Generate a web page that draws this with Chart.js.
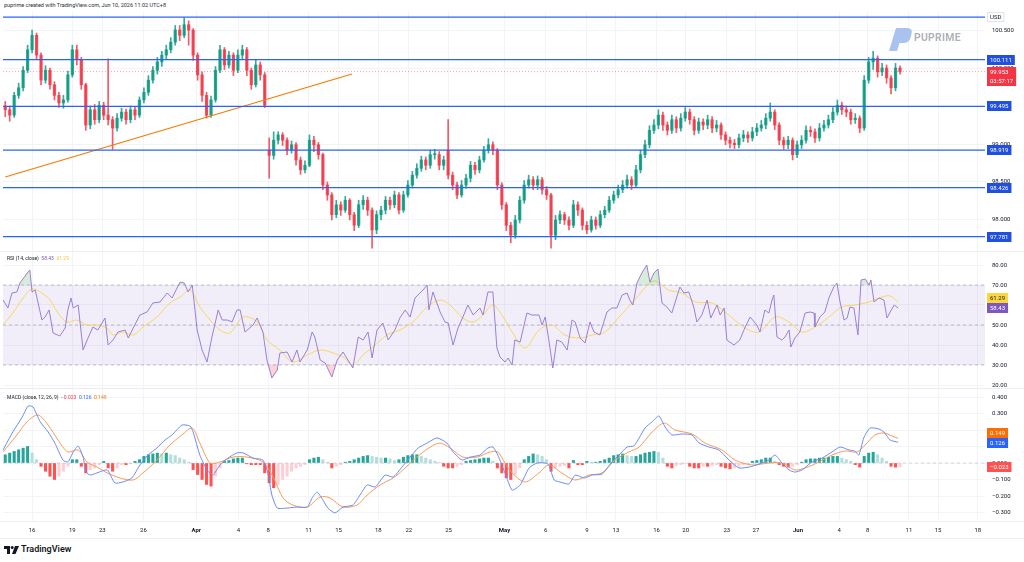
<!DOCTYPE html>
<html>
<head>
<meta charset="utf-8">
<title>USD index 4H</title>
<script src="https://cdn.jsdelivr.net/npm/chart.js@4.4.1/dist/chart.umd.min.js"></script>
<style>
  html, body { margin: 0; padding: 0; background: #fff; }
  body { position: relative; width: 1024px; height: 562px; overflow: hidden; font-family: Roboto, 'Liberation Sans', sans-serif; color: #131722; }
  canvas { position: absolute; left: 0; }
  .txt { position: absolute; white-space: nowrap; line-height: 1; }
  .sep { position: absolute; left: 0; width: 1024px; height: 1px; background: #eceef3; }
</style>
</head>
<body>
<div class="txt" style="left:4px;top:3px;font-size:5.5px;color:#2a2e39">puprime created with TradingView.com, Jun 10, 2026 11:02 UTC+8</div>

<canvas id="main" width="1024" height="239" style="top:12px"></canvas>
<div class="sep" style="top:251px"></div>
<canvas id="rsi" width="1024" height="136" style="top:252px"></canvas>
<div class="sep" style="top:388px"></div>
<canvas id="macd" width="1024" height="151" style="top:389px"></canvas>
<div class="sep" style="top:521px"></div>
<div class="sep" style="top:538px"></div>

<div class="txt" style="left:7px;top:256px;font-size:5px">RSI (14, close) <span style="color:#7e57c2">&nbsp;58.43</span> <span style="color:#f5c542">&nbsp;61.29</span></div>
<div class="txt" style="left:7px;top:395px;font-size:5px">MACD (close, 12, 26, 9) <span style="color:#f23645">&nbsp;−0.023</span> <span style="color:#2962ff">&nbsp;0.126</span> <span style="color:#ff6d00">&nbsp;0.149</span></div>

<!-- watermark -->
<svg style="position:absolute;left:886px;top:26px" width="28" height="26" viewBox="0 0 28 26">
  <path d="M3 25 L10 2 L21 2 Q27 2 25.5 8 L24.5 12 Q23 17 17 17 L13.5 17 L11 25 Z" fill="#a9c2ef"/>
</svg>
<div class="txt" style="left:914px;top:33px;font-size:10.5px;font-weight:bold;color:#b0b3ba;letter-spacing:0.2px">PUPRIME</div>

<!-- footer logo -->
<svg style="position:absolute;left:4px;top:546px" width="15" height="8" viewBox="0 0 15 8">
  <path d="M0 0 H6 V8 H3 V3 H0 Z" fill="#131722"/>
  <circle cx="8.2" cy="1.5" r="1.5" fill="#131722"/>
  <path d="M11 0 H15 L11.5 8 H8 Z" fill="#131722"/>
</svg>
<div class="txt" style="left:21px;top:545px;font-size:9px;font-weight:600;color:#131722">TradingView</div>

<script>
// ---- time axis ----
const tickPos = [6.0, 15.0, 21.7, 30.9, 42.7, 52.1, 58.8, 67.8, 74.5, 83.4, 90.2, 99.1, 111.6,
                 120.8, 130.0, 136.5, 145.6, 152.1, 161.3, 167.8, 177.2, 186.4, 192.8, 202.0, 208.5, 217.4];
const tickLabels = ['16', '19', '23', '26', 'Apr', '4', '8', '11', '15', '18', '22', '25', 'May',
                    '6', '9', '13', '16', '20', '23', '27', 'Jun', '4', '8', '11', '15', '18'];
const monthLabels = ['Apr', 'May', 'Jun'];

// ---- candles (one per 4.5px slot) ----
const opens = [
  99.50, 99.45, 99.38, 99.64, 99.74, 99.97, 100.24, 100.43, 100.17, 99.84,
  99.97, 99.78, 99.64, 99.54, 99.58, 99.91, 100.24, 100.11, 99.78, 99.25,
  99.45, 99.32, 99.51, 99.38, 99.32, 99.21, 99.34, 99.42, 99.32, 99.45,
  99.38, 99.58, 99.68, 99.84, 99.97, 100.08, 100.17, 100.24, 100.34, 100.50,
  100.43, 100.57, 100.50, 100.17, 99.91, 99.64, 99.38, 99.58, 99.97, 100.24,
  100.04, 100.17, 99.97, 100.17, 100.24, 99.97, 99.78, 100.04, 99.91, 98.92,
  98.85, 99.05, 99.12, 99.05, 98.92, 98.99, 98.79, 98.66, 98.72, 99.05,
  98.99, 98.86, 98.46, 98.33, 98.07, 98.20, 98.13, 98.26, 98.07, 97.93,
  98.20, 98.26, 98.13, 97.87, 98.07, 98.13, 98.26, 98.20, 98.33, 98.13,
  98.33, 98.46, 98.59, 98.68, 98.79, 98.72, 98.86, 98.86, 98.72, 98.92,
  98.59, 98.46, 98.33, 98.46, 98.55, 98.72, 98.66, 98.79, 98.92, 98.99,
  98.92, 98.46, 98.20, 97.93, 97.80, 98.00, 98.26, 98.46, 98.53, 98.46,
  98.53, 98.40, 98.33, 97.80, 98.00, 98.07, 98.00, 97.93, 98.20, 98.13,
  97.93, 97.87, 98.00, 97.93, 98.07, 98.13, 98.26, 98.33, 98.40, 98.46,
  98.53, 98.46, 98.66, 98.86, 98.99, 99.18, 99.25, 99.38, 99.25, 99.18,
  99.32, 99.21, 99.34, 99.42, 99.32, 99.18, 99.29, 99.25, 99.32, 99.21,
  99.25, 99.12, 99.05, 99.01, 98.99, 99.08, 99.12, 99.08, 99.16, 99.21,
  99.25, 99.34, 99.42, 99.25, 99.05, 98.99, 99.05, 98.86, 98.99, 99.05,
  99.18, 99.16, 99.08, 99.21, 99.25, 99.32, 99.42, 99.51, 99.45, 99.42,
  99.32, 99.34, 99.21, 99.84, 100.08, 100.13, 99.95, 100.00, 99.87, 99.74,
  100.00
];
const highs = [
  99.56, 99.50, 99.68, 99.80, 100.02, 100.30, 100.50, 100.46, 100.20, 100.03,
  100.00, 99.82, 99.68, 99.64, 99.96, 100.30, 100.30, 100.14, 99.80, 99.50,
  99.52, 99.56, 99.55, 100.12, 99.36, 99.40, 99.47, 99.46, 99.50, 99.49,
  99.62, 99.74, 99.90, 100.02, 100.14, 100.22, 100.30, 100.40, 100.56, 100.56,
  100.66, 100.62, 100.52, 100.20, 99.95, 99.68, 99.63, 100.02, 100.30, 100.27,
  100.22, 100.20, 100.24, 100.30, 100.27, 100.00, 100.10, 100.08, 99.94, 99.08,
  99.16, 99.16, 99.15, 99.08, 99.04, 99.02, 98.83, 98.78, 99.12, 99.10,
  99.02, 98.88, 98.50, 98.36, 98.26, 98.24, 98.31, 98.28, 98.10, 98.26,
  98.32, 98.30, 98.16, 98.12, 98.18, 98.31, 98.30, 98.38, 98.36, 98.38,
  98.52, 98.64, 98.74, 98.84, 98.83, 98.92, 98.93, 98.90, 98.84, 99.32,
  98.63, 98.50, 98.52, 98.60, 98.77, 98.76, 98.84, 98.97, 99.07, 99.03,
  98.94, 98.49, 98.23, 97.97, 98.06, 98.31, 98.52, 98.59, 98.57, 98.58,
  98.56, 98.44, 98.35, 98.06, 98.12, 98.10, 98.04, 98.26, 98.24, 98.16,
  97.98, 98.05, 98.04, 98.12, 98.18, 98.31, 98.38, 98.46, 98.52, 98.59,
  98.57, 98.72, 98.92, 99.05, 99.24, 99.32, 99.45, 99.42, 99.29, 99.38,
  99.36, 99.40, 99.48, 99.46, 99.36, 99.34, 99.33, 99.38, 99.36, 99.31,
  99.28, 99.16, 99.09, 99.06, 99.13, 99.18, 99.16, 99.22, 99.27, 99.31,
  99.40, 99.54, 99.45, 99.28, 99.09, 99.10, 99.08, 99.04, 99.11, 99.24,
  99.23, 99.20, 99.27, 99.31, 99.38, 99.48, 99.58, 99.55, 99.50, 99.46,
  99.40, 99.37, 99.90, 100.14, 100.22, 100.16, 100.06, 100.04, 99.90, 100.06,
  100.03
];
const lows = [
  99.36, 99.30, 99.35, 99.60, 99.70, 99.94, 100.20, 100.12, 99.78, 99.80,
  99.72, 99.58, 99.48, 99.47, 99.55, 99.88, 100.04, 99.72, 99.18, 99.20,
  99.26, 99.28, 99.32, 99.25, 98.93, 99.17, 99.30, 99.26, 99.28, 99.32,
  99.35, 99.54, 99.64, 99.80, 99.92, 100.02, 100.12, 100.20, 100.30, 100.36,
  100.40, 100.30, 100.10, 99.84, 99.56, 99.34, 99.35, 99.55, 99.94, 99.98,
  100.00, 99.90, 99.94, 100.12, 99.90, 99.72, 99.75, 99.84, 99.48, 98.55,
  98.80, 99.00, 98.98, 98.86, 98.88, 98.72, 98.60, 98.62, 98.70, 98.90,
  98.80, 98.40, 98.26, 98.00, 98.03, 98.06, 98.10, 98.00, 97.86, 97.90,
  98.14, 98.06, 97.63, 97.82, 98.00, 98.08, 98.14, 98.16, 98.08, 98.10,
  98.30, 98.42, 98.55, 98.64, 98.66, 98.68, 98.80, 98.66, 98.66, 98.54,
  98.40, 98.28, 98.30, 98.42, 98.50, 98.60, 98.62, 98.76, 98.88, 98.86,
  98.40, 98.14, 97.86, 97.70, 97.76, 97.96, 98.22, 98.42, 98.40, 98.40,
  98.34, 98.27, 97.63, 97.74, 97.95, 97.94, 97.87, 97.90, 98.06, 97.87,
  97.82, 97.84, 97.88, 97.90, 98.03, 98.10, 98.22, 98.29, 98.36, 98.42,
  98.40, 98.43, 98.62, 98.82, 98.95, 99.14, 99.20, 99.18, 99.12, 99.14,
  99.15, 99.17, 99.30, 99.26, 99.12, 99.14, 99.19, 99.20, 99.15, 99.16,
  99.06, 98.99, 98.95, 98.94, 98.95, 99.03, 99.02, 99.04, 99.11, 99.17,
  99.20, 99.30, 99.19, 98.99, 98.93, 98.94, 98.79, 98.82, 98.94, 99.01,
  99.10, 99.02, 99.04, 99.17, 99.21, 99.28, 99.38, 99.39, 99.36, 99.26,
  99.27, 99.15, 99.18, 99.80, 99.98, 99.88, 99.90, 99.80, 99.66, 99.70,
  99.92
];
const closes = [
  99.45, 99.38, 99.64, 99.74, 99.97, 100.24, 100.43, 100.17, 99.84, 99.97,
  99.78, 99.64, 99.54, 99.58, 99.91, 100.24, 100.11, 99.78, 99.25, 99.45,
  99.32, 99.51, 99.38, 99.32, 99.21, 99.34, 99.42, 99.32, 99.45, 99.38,
  99.58, 99.68, 99.84, 99.97, 100.08, 100.17, 100.24, 100.34, 100.50, 100.43,
  100.57, 100.50, 100.17, 99.91, 99.64, 99.38, 99.58, 99.97, 100.24, 100.04,
  100.17, 99.97, 100.17, 100.24, 99.97, 99.78, 100.04, 99.91, 99.51, 98.85,
  99.05, 99.12, 99.05, 98.92, 98.99, 98.79, 98.66, 98.72, 99.05, 98.99,
  98.86, 98.46, 98.33, 98.07, 98.20, 98.13, 98.26, 98.07, 97.93, 98.20,
  98.26, 98.13, 97.87, 98.07, 98.13, 98.26, 98.20, 98.33, 98.13, 98.33,
  98.46, 98.59, 98.68, 98.79, 98.72, 98.86, 98.86, 98.72, 98.79, 98.59,
  98.46, 98.33, 98.46, 98.55, 98.72, 98.66, 98.79, 98.92, 98.99, 98.92,
  98.46, 98.20, 97.93, 97.80, 98.00, 98.26, 98.46, 98.53, 98.46, 98.53,
  98.40, 98.33, 97.80, 98.00, 98.07, 98.00, 97.93, 98.20, 98.13, 97.93,
  97.87, 98.00, 97.93, 98.07, 98.13, 98.26, 98.33, 98.40, 98.46, 98.53,
  98.46, 98.66, 98.86, 98.99, 99.18, 99.25, 99.38, 99.25, 99.18, 99.32,
  99.21, 99.34, 99.42, 99.32, 99.18, 99.29, 99.25, 99.32, 99.21, 99.25,
  99.12, 99.05, 99.01, 98.99, 99.08, 99.12, 99.08, 99.16, 99.21, 99.25,
  99.34, 99.42, 99.25, 99.05, 98.99, 99.05, 98.86, 98.99, 99.05, 99.18,
  99.16, 99.08, 99.21, 99.25, 99.32, 99.42, 99.51, 99.45, 99.42, 99.32,
  99.34, 99.21, 99.84, 100.08, 100.13, 99.95, 100.00, 99.87, 99.74, 100.00,
  99.953
];

// ---- drawings on the price pane ----
const levels = [100.111, 99.495, 98.919, 98.426, 97.781];
const topLevel = 100.67;
const lastPrice = 99.953;
const trendX = [0, 77.5];
const trendY = [98.566, 99.921];
const priceTicks = [98.0, 98.5, 99.0, 99.5, 100.0, 100.5];

// ---- RSI ----
const rsiX = [-0.5,0.6,1.5,2.6,3.3,5.1,5.5,6.0,6.7,8.2, 8.9,9.8,10.7,12.2,13.4,14.0,14.7,15.2,16.3,17.4,
  18.5,19.6,20.7,22.3,23.0,24.1,25.2,26.8,27.5,28.6, 30.1,31.7,33.0,34.6,36.2,37.3,38.4,39.1,40.0,40.9,
  41.8,42.9,44.0,45.1,46.2,47.6,48.5,49.6,50.7,51.8, 52.5,53.6,55.4,56.3,57.6,58.5,59.6,60.8,61.4,63.0,
  64.1,65.2,65.9,67.5,68.6,69.2,70.4,71.5,73.0,74.2, 75.5,76.6,77.7,78.9,80.0,81.1,82.0,83.1,84.4,85.6,
  87.1,88.2,89.4,90.5,91.6,92.7,93.4,94.3,94.7,95.6, 97.2,98.3,99.0,100.1,101.2,102.3,103.4,104.6,106.1,106.8,
  107.9,109.0,109.9,110.6,111.7,112.4,113.3,113.9,115.1,116.6, 117.7,119.3,120.0,120.7,121.5,122.4,123.3,124.4,125.6,126.7,
  127.4,128.5,129.6,130.7,131.6,132.9,133.8,134.5,135.6,136.7, 137.9,139.0,139.6,140.3,141.2,142.3,143.4,144.1,145.0,145.9,
  146.8,147.9,149.0,150.8,151.7,152.8,153.9,154.6,155.7,156.9, 157.7,159.1,159.8,160.7,161.3,162.9,164.2,165.4,166.5,168.0,
  168.7,169.8,170.7,171.4,171.8,172.5,173.6,174.3,175.2,175.6, 176.5,177.6,178.8,179.9,180.8,181.0,182.1,183.2,184.1,185.2,
  185.9,186.6,187.5,188.2,188.8,189.7,190.6,191.3,192.2,193.1, 193.5,194.2,195.3,196.4,197.1,197.8,198.7,199.6];
const rsiY = [62.5,58.5,66,66.5,71,76.5,77.5,66.5,67.5,52.5, 54,57.5,46,44.5,48.5,57.5,63.5,58.5,60,37.5,
  43.5,49,47.5,53.5,40,42.5,46.5,47.5,43.5,48.5, 55,56.5,61,61.5,66,63.5,68.5,71.5,71,66.5,
  70,47.5,37.5,31.5,44,57.5,52.5,52.5,51.5,57.5, 57.5,46.5,50,53.5,46.5,32.5,23.5,27.5,36,36.5,
  31.5,37.5,31.5,37.5,46.5,44,32.5,31,24,32.5, 36.5,32.5,28.5,44,42.5,46.5,33.5,47.5,51,42.5,
  47.5,53.5,57.5,54,63.5,66,67.5,70,57.5,66.5, 56.5,51.5,51,40,48.5,54,60,55,58.5,55,
  66.5,66.5,38.5,34,31.5,33.5,30,42.5,41.5,56, 55,55,50,54,42.5,28.5,42.5,41.5,37.5,52.5,
  51.5,43.5,41,51.5,46.5,45,51.5,56.5,58.5,58.5, 65,66,62.5,60,71,76,80,71.5,76,78,
  61,59,56,69,66,66.5,59,51.5,55,62.5, 53.5,60,55,58.5,42.5,40,42.5,49,54,50,
  46.5,57.5,56,62.5,65,44,42.5,44,47.5,39, 43.5,46.5,56,56.5,56,49,54,56.5,63.5,69,
  71,61.5,52.5,53.5,59,58.5,45,72.5,73,70, 72.5,61.5,63.5,62.5,53.5,56.5,60,58.43];
const rsiMaX = [-0.5,1.7,4.0,6.0,8.2,10.0,11.8,13.8,16.0,18.3, 20.5,22.7,24.1,26.3,28.6,30.8,33.9,36.8,39.1,41.3,
  43.5,45.8,48.0,50.2,53.2,56.3,58.5,61.4,64.3,67.5, 70.4,73.3,75.5,77.7,80.0,82.2,85.3,88.2,91.1,94.3,
  97.2,99.4,102.3,104.6,106.8,109.0,111.3,113.3,116.2,119.3, 122.2,125.1,128.3,131.2,134.1,137.2,140.1,143.0,145.2,148.3,
  151.3,154.3,158.0,160.9,165.4,168.5,172.1,175.2,178.1,181.0, 184.1,187.0,189.9,193.1,196.0,197.8,199.6];
const rsiMaY = [50,56,63.5,68,66,62.5,56,51.5,52.5,50, 50,48.5,45,46.5,45,49,54,61,64,67.5,
  59,52.5,47.5,46,54,51.5,42.5,37.5,31.5,35, 37.5,36,34,30,35,39,45,47.5,51.5,59,
  62.5,60,53.5,51.5,55,60,54,46.5,38.5,47.5, 50,45,43.5,45,46.5,54,61,68.5,72,67.5,
  66,61.5,61,56.5,48.5,46.5,54,51.5,46.5,49, 54,59,60,61.5,64,64.5,61.29];
const rsiBands = [70, 50, 30];
const rsiTicks = [20, 30, 40, 50, 60, 70, 80];

// ---- MACD ----
const macdX = [-0.5,1.7,3.8,5.1,6.2,7.8,9.6,11.1,12.9,14.0, 15.2,16.3,17.4,18.1,19.0,20.5,22.8,24.5,26.3,28.3,
  30.1,31.9,33.9,35.7,37.3,39.5,41.3,42.0,43.5,45.1, 46.4,48.0,49.8,51.8,53.2,55.4,57.6,58.7,59.6,60.8,
  63.0,65.2,67.5,68.6,69.7,71.0,72.1,73.7,75.5,77.7, 79.3,80.9,82.7,84.9,86.7,88.7,90.5,92.3,94.3,96.5,
  98.7,100.1,102.1,103.9,106.1,107.9,109.0,110.1,111.7,113.3, 115.1,117.1,118.9,120.7,121.5,122.7,124.0,126.0,127.4,129.4,
  131.2,133.4,135.6,137.2,139.0,140.5,141.7,143.0,144.6,146.1, 147.5,149.0,151.3,153.5,155.1,157.3,159.5,161.8,164.0,166.3,
  168.5,170.7,172.1,173.6,175.2,176.5,178.1,180.3,182.6,184.8, 186.6,188.6,189.9,190.8,191.9,193.3,195.3,196.4,197.8,199.6];
const macdY = [0.079,0.188,0.279,0.345,0.34,0.25,0.188,0.12,0.018,0.006, 0.067,0.103,0.036,-0.055,-0.073,-0.06,-0.042,-0.121,-0.115,-0.091,
  -0.012,0.048,0.091,0.139,0.17,0.23,0.224,0.188,0.048,-0.042, -0.073,-0.012,0.03,0.061,0.061,0.03,0.018,-0.06,-0.194,-0.273,
  -0.273,-0.267,-0.267,-0.212,-0.176,-0.224,-0.273,-0.303,-0.267,-0.255, -0.194,-0.133,-0.145,-0.073,-0.085,-0.024,0.036,0.091,0.121,0.152,
  0.121,0.067,0.018,0.036,0.048,0.091,0.097,0.048,-0.06,-0.164, -0.133,-0.03,0,0,-0.012,-0.103,-0.115,-0.127,-0.073,-0.091,
  -0.073,-0.067,0.006,0.048,0.097,0.103,0.152,0.212,0.25,0.285, 0.218,0.17,0.176,0.17,0.121,0.097,0.079,0.018,-0.03,-0.024,
  -0.006,0.018,0.048,0,-0.042,-0.055,-0.042,0.006,0.03,0.067, 0.097,0.079,0.073,0.048,0.152,0.212,0.206,0.188,0.139,0.126];
const signalX = [-0.5,2.6,4.9,7.3,9.6,11.8,14.0,16.3,18.3,20.5, 22.8,25.7,28.6,30.8,33.9,36.8,39.5,41.8,43.5,45.8,
  48.0,50.9,54.0,57.6,59.9,62.1,64.3,67.5,70.4,72.6, 75.5,78.6,80.9,83.8,86.7,88.9,92.0,95.0,97.2,99.4,
  102.3,105.5,108.4,110.1,111.7,113.3,116.2,119.3,121.5,124.4, 127.4,130.5,133.4,136.3,139.4,141.7,144.6,147.3,149.7,153.5,
  156.4,160.2,163.1,166.9,170.7,173.6,176.5,178.8,181.9,184.8, 187.7,190.4,192.2,194.4,196.4,198.2,199.6];
const signalY = [0.067,0.17,0.25,0.291,0.23,0.139,0.067,0.079,0.006,-0.024, -0.06,-0.091,-0.103,-0.06,0.018,0.109,0.17,0.212,0.121,0,
  0.006,0.036,0.036,0.006,-0.085,-0.212,-0.255,-0.267,-0.206,-0.212, -0.267,-0.255,-0.194,-0.133,-0.091,-0.042,0.036,0.097,0.121,0.091,
  0.036,0.036,0.067,0.067,0,-0.06,-0.115,-0.06,-0.012,-0.06, -0.103,-0.073,-0.06,0.018,0.067,0.097,0.188,0.242,0.2,0.176,
  0.121,0.079,0.018,-0.012,0,0,-0.042,-0.03,0.006,0.048, 0.073,0.067,0.109,0.17,0.182,0.164,0.149];
const hist = [
  0.05, 0.06, 0.07, 0.08, 0.09, 0.10, 0.06, 0.02, -0.02, -0.05,
  -0.08, -0.10, -0.08, -0.05, -0.02, 0.02, 0.02, -0.02, -0.06, -0.04,
  -0.03, -0.01, 0.01, -0.03, -0.05, -0.03, -0.01, -0.01, -0.005, 0.01,
  0.02, 0.04, 0.05, 0.055, 0.06, 0.055, 0.06, 0.05, 0.045, 0.03,
  0.02, 0.005, -0.04, -0.07, -0.10, -0.13, -0.14, -0.08, -0.03, 0.01,
  0.015, 0.025, 0.03, 0.03, -0.005, -0.01, -0.01, -0.01, -0.06, -0.12,
  -0.15, -0.13, -0.10, -0.08, -0.05, -0.03, -0.02, -0.01, 0.02, 0.03,
  0.035, 0.02, 0.005, -0.03, -0.02, -0.01, 0.005, 0.01, 0.02, 0.03,
  0.04, 0.045, 0.04, 0.035, 0.03, 0.03, 0.025, 0.015, 0.02, 0.035,
  0.045, 0.05, 0.05, 0.04, 0.03, 0.02, 0.01, 0.005, -0.02, -0.03,
  -0.03, -0.02, -0.01, 0.01, 0.015, 0.02, 0.025, 0.03, 0.03, 0.01,
  -0.03, -0.06, -0.09, -0.10, -0.07, -0.03, 0.02, 0.04, 0.055, 0.05,
  0.04, 0.02, -0.05, -0.03, -0.02, -0.015, -0.03, 0.015, -0.01, -0.01,
  0.01, 0.005, 0.005, 0.01, 0.02, 0.03, 0.045, 0.05, 0.055, 0.045,
  0.04, 0.04, 0.05, 0.06, 0.065, 0.07, 0.065, 0.03, -0.02, -0.03,
  -0.015, -0.01, -0.005, -0.02, -0.03, -0.03, -0.02, -0.02, -0.015, -0.01,
  -0.02, -0.03, -0.035, -0.03, -0.02, -0.01, -0.005, 0.01, 0.015, 0.02,
  0.03, 0.03, 0.01, -0.01, -0.02, -0.025, -0.02, -0.01, 0.005, 0.02,
  0.025, 0.025, 0.03, 0.03, 0.035, 0.04, 0.04, 0.03, 0.02, 0.01,
  -0.01, -0.025, 0.04, 0.06, 0.065, 0.05, 0.03, 0.01, -0.02, -0.025,
  -0.023
];
const macdTicks = [-0.3, -0.2, -0.1, 0, 0.1, 0.2, 0.3, 0.4];

// ---- shared setup ----
const X_MIN = -0.5, X_MAX = 219;
const GRID = '#f2f4f8';
const UP = 'rgba(8,153,129,0.82)', DOWN = 'rgba(242,54,69,0.82)';

Chart.defaults.font.family = "Roboto, 'Liberation Sans', sans-serif";
Chart.defaults.font.size = 6;
Chart.defaults.color = '#131722';
Chart.defaults.animation = false;
Chart.defaults.events = [];
Chart.defaults.plugins.legend.display = false;
Chart.defaults.plugins.tooltip.enabled = false;

const pts = (xs, ys) => xs.map((x, i) => ({ x, y: ys[i] }));
const hline = v => [{ x: X_MIN, y: v }, { x: X_MAX, y: v }];

// price-scale label boxes
const tagPlugin = {
  id: 'tags',
  afterDraw(chart, args, opts) {
    const ctx = chart.ctx, ys = chart.scales.y, x0 = chart.chartArea.right + 2;
    ctx.save();
    ctx.font = "6px Roboto, 'Liberation Sans', sans-serif";
    ctx.textBaseline = 'middle';
    for (const t of opts.items || []) {
      const py = Math.round(ys.getPixelForValue(t.value)) + (t.dy || 0);
      const lines = t.sub ? [t.text, t.sub] : [t.text];
      const w = Math.max(...lines.map(s => ctx.measureText(s).width)) + 6;
      const h = lines.length * 9 + 1;
      ctx.fillStyle = t.bg;
      ctx.fillRect(x0, py - 5, w, h);
      if (t.border) {
        ctx.strokeStyle = t.border;
        ctx.lineWidth = 1;
        ctx.strokeRect(x0 + 0.5, py - 4.5, w - 1, h - 1);
      }
      ctx.fillStyle = t.fg;
      lines.forEach((s, k) => ctx.fillText(s, x0 + 3, py + 0.5 + k * 9));
    }
    ctx.restore();
  }
};

function xAxis(showLabels) {
  return {
    type: 'linear', min: X_MIN, max: X_MAX, offset: false,
    afterBuildTicks: s => { s.ticks = tickPos.map(v => ({ value: v })); },
    ticks: {
      display: showLabels, autoSkip: false, maxRotation: 0, padding: 6,
      callback: (v, i) => tickLabels[i],
      font: c => ({ size: 6, weight: monthLabels.includes(tickLabels[c.index]) ? 'bold' : 'normal' })
    },
    grid: { color: GRID, drawTicks: false, offset: false },
    border: { display: false },
    afterFit: s => { s.height = showLabels ? 19 : 0; s.paddingLeft = 0; s.paddingRight = 0; }
  };
}

function yAxis(min, max, ticks, fmt) {
  return {
    position: 'right', min, max,
    afterBuildTicks: s => { s.ticks = ticks.map(v => ({ value: v })); },
    ticks: { padding: 7, callback: fmt },
    grid: { color: GRID, drawTicks: false },
    border: { display: false },
    afterFit: s => { s.width = 39; s.paddingTop = 0; s.paddingBottom = 0; }
  };
}

const layout = { padding: { left: 3, right: 0, top: 0, bottom: 0 } };

// ---- price pane ----
const candleCol = closes.map((c, i) => c >= opens[i] ? UP : DOWN);
const levelSets = [topLevel, ...levels].map(v => ({
  type: 'line', data: hline(v), borderColor: '#2962ff', borderWidth: 1.2,
  pointRadius: 0, order: 0
}));

new Chart(document.getElementById('main'), {
  type: 'bar',
  data: {
    datasets: [
      ...levelSets,
      { type: 'line', data: pts(trendX, trendY), borderColor: '#f57c00', borderWidth: 1.2, pointRadius: 0, order: 0 },
      { type: 'line', data: hline(lastPrice), borderColor: 'rgba(242,54,69,0.45)', borderWidth: 1,
        borderDash: [1, 2], pointRadius: 0, order: 1 },
      { data: closes.map((c, i) => ({ x: i, y: [opens[i], c] })), backgroundColor: candleCol,
        barThickness: 2.6, minBarLength: 1, grouped: false, order: 2 },
      { data: highs.map((h, i) => ({ x: i, y: [lows[i], h] })), backgroundColor: candleCol,
        barThickness: 1, grouped: false, order: 3 }
    ]
  },
  options: {
    responsive: false, layout,
    scales: { x: xAxis(false), y: yAxis(97.592, 100.737, priceTicks, v => v.toFixed(3)) },
    plugins: {
      tags: {
        items: [
          { value: topLevel, text: 'USD', bg: '#ffffff', fg: '#131722', border: '#e0e3eb' },
          ...levels.map(v => ({ value: v, text: v.toFixed(3), bg: '#2150e0', fg: '#ffffff' })),
          { value: lastPrice, text: lastPrice.toFixed(3), sub: '03:57:17', bg: '#f23645', fg: '#ffffff' }
        ]
      }
    }
  },
  plugins: [tagPlugin]
});

// ---- RSI pane ----
new Chart(document.getElementById('rsi'), {
  type: 'line',
  data: {
    datasets: [
      ...rsiBands.map((v, k) => ({
        data: hline(v), borderColor: 'rgba(120,123,134,0.55)', borderWidth: 0.8, borderDash: [3, 3],
        pointRadius: 0, fill: k === 0 ? rsiBands.length - 1 : false, backgroundColor: 'rgba(126,87,194,0.1)', order: 5
      })),
      { data: pts(rsiX, rsiY), borderColor: 'transparent', pointRadius: 0, order: 4,
        fill: { target: { value: 30 }, above: 'transparent', below: 'rgba(242,54,69,0.22)' } },
      { data: pts(rsiX, rsiY), borderColor: '#9a7fd6', borderWidth: 1, pointRadius: 0, order: 1,
        fill: { target: { value: 70 }, above: 'rgba(76,175,80,0.22)', below: 'transparent' } },
      { data: pts(rsiMaX, rsiMaY), borderColor: '#f9d65c', borderWidth: 1, pointRadius: 0,
        tension: 0.35, order: 2 }
    ]
  },
  options: {
    responsive: false, layout,
    scales: { x: xAxis(false), y: yAxis(18.5, 86.5, rsiTicks, v => v.toFixed(2)) },
    plugins: {
      tags: {
        items: [
          { value: 61.29, text: '61.29', bg: '#fbd73c', fg: '#131722', dy: -4 },
          { value: 58.43, text: '58.43', bg: '#7e57c2', fg: '#ffffff', dy: 0 }
        ]
      }
    }
  },
  plugins: [tagPlugin]
});

// ---- MACD pane ----
const histCol = hist.map((v, i) => {
  const prev = i > 0 ? hist[i - 1] : v;
  if (v >= 0) return v >= prev ? '#26a69a' : '#b2dfdb';
  return v <= prev ? '#ff5252' : '#ffcdd2';
});
const signFmt = v => (v < 0 ? '\u2212' : '') + Math.abs(v).toFixed(3);

new Chart(document.getElementById('macd'), {
  type: 'bar',
  data: {
    datasets: [
      { data: hist.map((v, i) => ({ x: i, y: v })), backgroundColor: histCol,
        barThickness: 2.4, grouped: false, order: 4 },
      { type: 'line', data: hline(0), borderColor: 'rgba(120,123,134,0.35)', borderWidth: 0.8,
        borderDash: [3, 3], pointRadius: 0, order: 3 },
      { type: 'line', data: pts(signalX, signalY), borderColor: '#f79a55', borderWidth: 1,
        pointRadius: 0, tension: 0.3, order: 2 },
      { type: 'line', data: pts(macdX, macdY), borderColor: '#6a8cf7', borderWidth: 1,
        pointRadius: 0, tension: 0.2, order: 1 }
    ]
  },
  options: {
    responsive: false, layout,
    scales: { x: xAxis(true), y: yAxis(-0.3515, 0.4485, macdTicks, signFmt) },
    plugins: {
      tags: {
        items: [
          { value: 0.149, text: '0.149', bg: '#ff6d00', fg: '#ffffff', dy: -5 },
          { value: 0.126, text: '0.126', bg: '#2962ff', fg: '#ffffff', dy: 1 },
          { value: -0.023, text: signFmt(-0.023), bg: '#ff5252', fg: '#ffffff' }
        ]
      }
    }
  },
  plugins: [tagPlugin]
});
</script>
</body>
</html>
